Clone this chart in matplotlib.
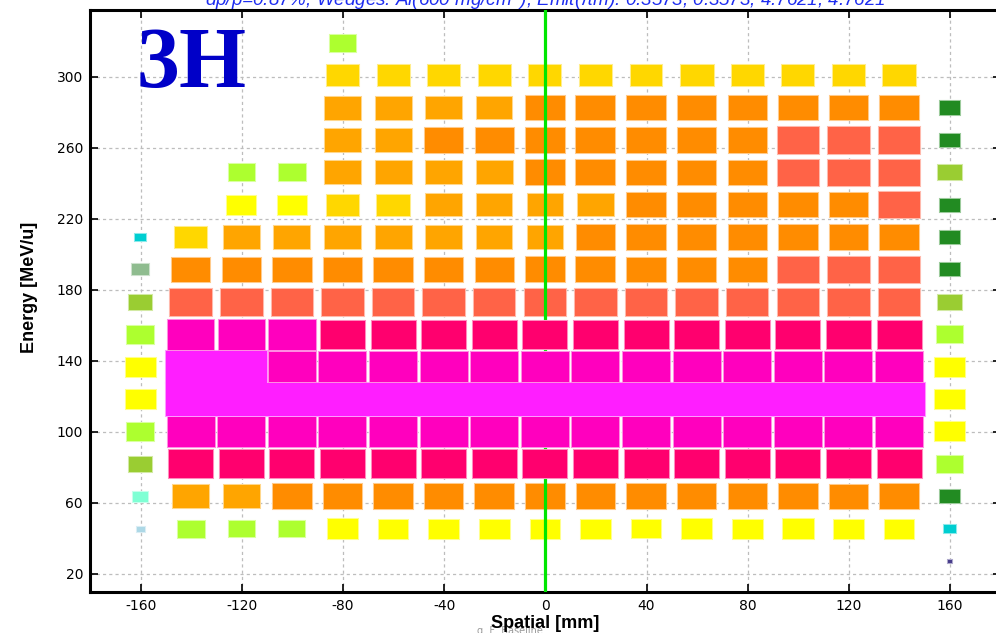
import numpy as np
import matplotlib
matplotlib.use("Agg")
import matplotlib.pyplot as plt
from matplotlib.patches import Rectangle
from matplotlib.colors import ListedColormap, BoundaryNorm, to_rgb

# ---------------- data ----------------
spatial = [-160, -140, -120, -100, -80, -60, -40, -20, 0, 20, 40, 60, 80, 100, 120, 140, 160]
energy = [27.0, 45.2, 63.5, 81.7, 100.0, 118.2, 136.5, 154.7, 173.0, 191.2,
          209.4, 227.7, 245.9, 264.2, 282.4, 300.7, 318.9]
n = np.nan
# relative cell content (box size), rows follow `energy`, columns follow `spatial`
row_027 = [n, n, n, n, n, n, n, n, n, n, n, n, n, n, n, n, 0.08]
row_045 = [0.16, 0.53, 0.51, 0.51, 0.60, 0.59, 0.59, 0.59, 0.58, 0.59, 0.57, 0.60, 0.59, 0.60, 0.59, 0.58, 0.24]
row_064 = [0.30, 0.70, 0.71, 0.76, 0.76, 0.77, 0.76, 0.77, 0.77, 0.76, 0.76, 0.76, 0.76, 0.76, 0.75, 0.76, 0.41]
row_082 = [0.46, 0.87, 0.87, 0.87, 0.87, 0.87, 0.87, 0.87, 0.87, 0.87, 0.87, 0.87, 0.87, 0.87, 0.87, 0.87, 0.52]
row_100 = [0.54, 0.93, 0.93, 0.93, 0.93, 0.93, 0.93, 0.93, 0.93, 0.93, 0.93, 0.93, 0.93, 0.93, 0.93, 0.93, 0.58]
row_118 = [0.59, 1.00, 1.00, 1.00, 1.00, 1.00, 1.00, 1.00, 1.00, 1.00, 1.00, 1.00, 1.00, 1.00, 1.00, 1.00, 0.59]
row_137 = [0.59, 1.00, 1.00, 0.93, 0.93, 0.93, 0.93, 0.93, 0.93, 0.93, 0.93, 0.93, 0.93, 0.93, 0.93, 0.93, 0.59]
row_155 = [0.54, 0.92, 0.92, 0.92, 0.87, 0.87, 0.87, 0.87, 0.87, 0.87, 0.87, 0.87, 0.87, 0.87, 0.87, 0.87, 0.52]
row_173 = [0.46, 0.82, 0.82, 0.82, 0.82, 0.82, 0.82, 0.82, 0.82, 0.82, 0.82, 0.82, 0.82, 0.82, 0.82, 0.82, 0.46]
row_191 = [0.34, 0.76, 0.76, 0.76, 0.76, 0.76, 0.76, 0.76, 0.77, 0.77, 0.76, 0.76, 0.76, 0.82, 0.82, 0.82, 0.40]
row_209 = [0.23, 0.63, 0.71, 0.71, 0.71, 0.71, 0.70, 0.70, 0.70, 0.76, 0.76, 0.76, 0.76, 0.76, 0.76, 0.76, 0.40]
row_228 = [n, n, 0.58, 0.58, 0.64, 0.64, 0.70, 0.70, 0.70, 0.70, 0.76, 0.76, 0.76, 0.76, 0.76, 0.82, 0.40]
row_246 = [n, n, 0.52, 0.52, 0.71, 0.71, 0.71, 0.71, 0.77, 0.77, 0.76, 0.76, 0.76, 0.82, 0.82, 0.82, 0.46]
row_264 = [n, n, n, n, 0.71, 0.71, 0.76, 0.76, 0.77, 0.77, 0.76, 0.76, 0.76, 0.82, 0.82, 0.82, 0.40]
row_282 = [n, n, n, n, 0.71, 0.71, 0.70, 0.70, 0.77, 0.77, 0.76, 0.76, 0.76, 0.76, 0.75, 0.76, 0.41]
row_301 = [n, n, n, n, 0.64, 0.63, 0.63, 0.64, 0.63, 0.64, 0.63, 0.65, 0.63, 0.63, 0.63, 0.64, n]
row_319 = [n, n, n, n, 0.52, n, n, n, n, n, n, n, n, n, n, n, n]
content = [row_027, row_045, row_064, row_082, row_100, row_118, row_137, row_155, row_173,
           row_191, row_209, row_228, row_246, row_264, row_282, row_301, row_319]

level_edges = [0.0, 0.12, 0.19, 0.26, 0.31, 0.37, 0.43, 0.49, 0.555, 0.61, 0.67, 0.73,
               0.79, 0.85, 0.90, 0.965, 1.01]
level_colors = ["#483D8B", "#ADD8E6", "#00CED1", "#7FFFD4", "#8FBC8F", "#228B22", "#9ACD32",
                "#ADFF2F", "#FFFF00", "#FFD700", "#FFA500", "#FF8C00", "#FF6347", "#FF006E",
                "#FF00BE", "#FF1EFF"]

x_ticks = [-160, -120, -80, -40, 0, 40, 80, 120, 160]
y_ticks = [20, 60, 100, 140, 180, 220, 260, 300]
title = "dp/p=0.87%; Wedges: Al(600 mg/cm$^{2}$); Emit(\u03c0m): 0.3573, 0.3573, 4.7621, 4.7621"

# ---------------- drawing ----------------
bin_w, bin_h = 20.0, 18.244
cmap = ListedColormap(level_colors)
norm = BoundaryNorm(level_edges, cmap.N)

W, H = 996, 633
fig = plt.figure(figsize=(W / 100, H / 100), dpi=100)
ax_l, ax_r, ax_t, ax_b = 90, 1000.7, 10, 591.7
ax = fig.add_axes([ax_l / W, 1 - ax_b / H, (ax_r - ax_l) / W, (ax_b - ax_t) / H])
ax.set_xlim(-180, 180)
ax.set_ylim(10, 337.6)

def lighten(c, a=0.55):
    r, g, b = to_rgb(c)
    return (r + (1 - r) * a, g + (1 - g) * a, b + (1 - b) * a)

for i, e in enumerate(energy):
    for j, s in enumerate(spatial):
        v = content[i][j]
        if v is None or np.isnan(v):
            continue
        col = cmap(norm(v))
        w = v * bin_w
        h = v * bin_h
        z = 4 if v >= 0.85 else 2
        ax.add_patch(Rectangle((s - w / 2, e - h / 2), w, h, facecolor="none",
                               edgecolor=lighten(col), lw=1.5, zorder=z - 0.1))
        ax.add_patch(Rectangle((s - w / 2, e - h / 2), w, h, facecolor=col,
                               edgecolor="none", lw=0, zorder=z))

ax.axvline(0, color="#00E600", lw=2.3, zorder=3)

ax.set_xticks(x_ticks)
ax.set_yticks(y_ticks)
ax.set_xticklabels([str(t) for t in x_ticks])
ax.set_yticklabels([str(t) for t in y_ticks])
ax.grid(True, color="#BDBDBD", linestyle=(0, (2.5, 2.5)), lw=0.9, zorder=0)
ax.set_axisbelow(True)
ax.tick_params(direction="in", length=6, width=1.2, top=True, right=True,
               labelsize=10, pad=5, colors="black")
for lab in ax.get_xticklabels() + ax.get_yticklabels():
    lab.set_fontfamily("DejaVu Sans")
for sp in ax.spines.values():
    sp.set_linewidth(2.2)
    sp.set_color("black")

ax.text(-161.5, 294.0, "3H", fontfamily="Liberation Serif", fontweight="bold",
        fontsize=62, color="#0000C8", ha="left", va="baseline", zorder=6)

fig.text(545 / W, 1 - 5.5 / H, title, ha="center", va="baseline", fontsize=13.5,
         fontstyle="italic", color="#1E2DF0", fontfamily="Liberation Sans")
fig.text(545 / W, 1 - 623 / H, "Spatial [mm]", ha="center", va="center",
         fontsize=13, fontweight="bold", fontfamily="Liberation Sans")
fig.text(30 / W, 1 - 287 / H, "Energy [MeV/u]", ha="center", va="center", rotation=90,
         fontsize=13, fontweight="bold", fontfamily="Liberation Sans")
fig.text(477 / W, 1 - 631 / H, "g  F  Baseline", ha="left", va="center",
         fontsize=7, color="#9A9A9A", fontfamily="DejaVu Sans", zorder=0)

fig.savefig("out.png", dpi=100)
